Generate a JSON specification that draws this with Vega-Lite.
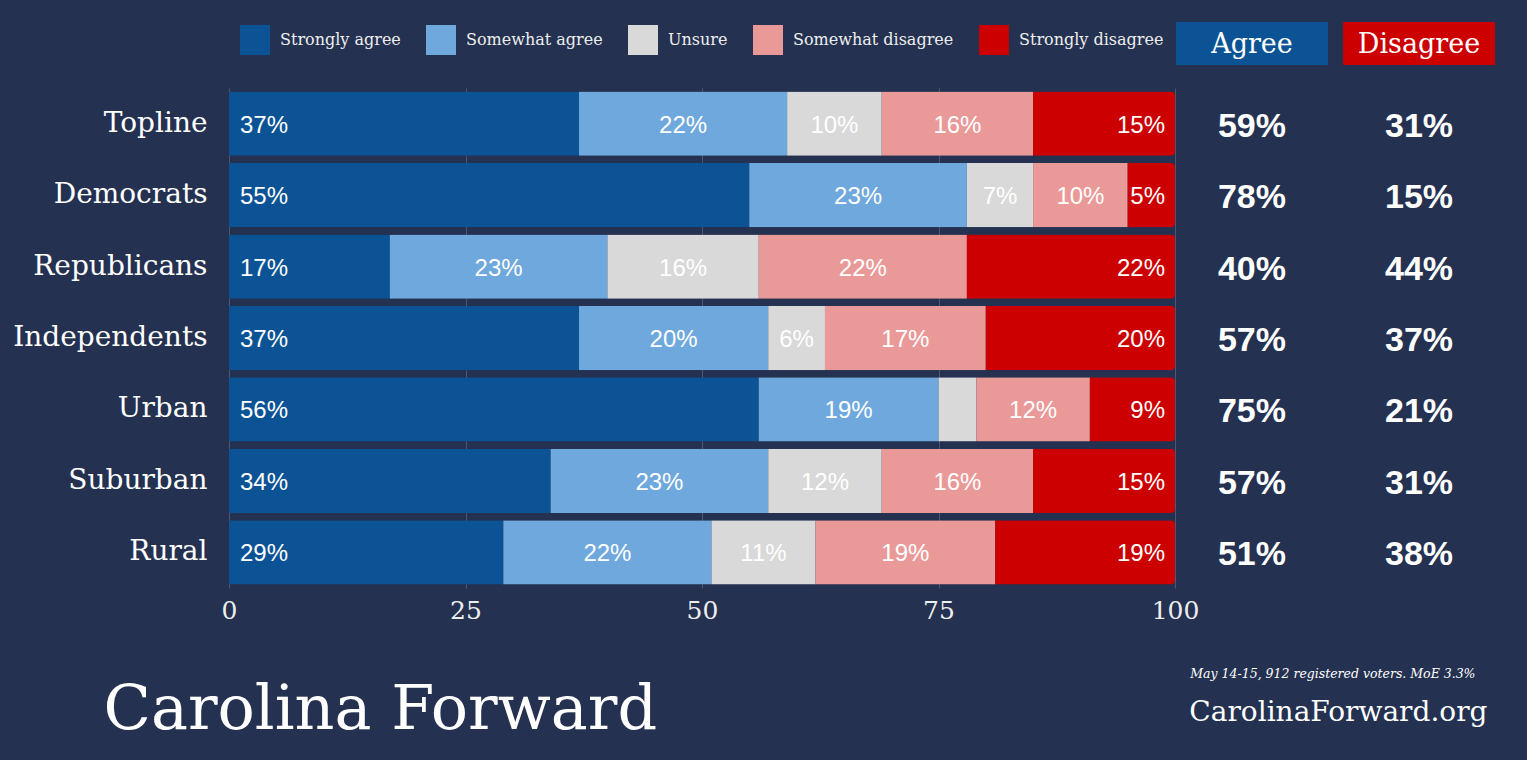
{
  "$schema": "https://vega.github.io/schema/vega-lite/v6.json",
  "width": 946,
  "height": 500,
  "autosize": {"type": "none"},
  "padding": {"left": 229, "top": 88, "right": 352, "bottom": 172},
  "background": "#243150",
  "config": {"view": {"stroke": null}},
  "datasets": {
    "shares": [
      {"group": "Topline", "category": "Strongly agree", "rank": 1, "value": 37},
      {"group": "Topline", "category": "Somewhat agree", "rank": 2, "value": 22},
      {"group": "Topline", "category": "Unsure", "rank": 3, "value": 10},
      {"group": "Topline", "category": "Somewhat disagree", "rank": 4, "value": 16},
      {"group": "Topline", "category": "Strongly disagree", "rank": 5, "value": 15},
      {"group": "Democrats", "category": "Strongly agree", "rank": 1, "value": 55},
      {"group": "Democrats", "category": "Somewhat agree", "rank": 2, "value": 23},
      {"group": "Democrats", "category": "Unsure", "rank": 3, "value": 7},
      {"group": "Democrats", "category": "Somewhat disagree", "rank": 4, "value": 10},
      {"group": "Democrats", "category": "Strongly disagree", "rank": 5, "value": 5},
      {"group": "Republicans", "category": "Strongly agree", "rank": 1, "value": 17},
      {"group": "Republicans", "category": "Somewhat agree", "rank": 2, "value": 23},
      {"group": "Republicans", "category": "Unsure", "rank": 3, "value": 16},
      {"group": "Republicans", "category": "Somewhat disagree", "rank": 4, "value": 22},
      {"group": "Republicans", "category": "Strongly disagree", "rank": 5, "value": 22},
      {"group": "Independents", "category": "Strongly agree", "rank": 1, "value": 37},
      {"group": "Independents", "category": "Somewhat agree", "rank": 2, "value": 20},
      {"group": "Independents", "category": "Unsure", "rank": 3, "value": 6},
      {"group": "Independents", "category": "Somewhat disagree", "rank": 4, "value": 17},
      {"group": "Independents", "category": "Strongly disagree", "rank": 5, "value": 20},
      {"group": "Urban", "category": "Strongly agree", "rank": 1, "value": 56},
      {"group": "Urban", "category": "Somewhat agree", "rank": 2, "value": 19},
      {"group": "Urban", "category": "Unsure", "rank": 3, "value": 4},
      {"group": "Urban", "category": "Somewhat disagree", "rank": 4, "value": 12},
      {"group": "Urban", "category": "Strongly disagree", "rank": 5, "value": 9},
      {"group": "Suburban", "category": "Strongly agree", "rank": 1, "value": 34},
      {"group": "Suburban", "category": "Somewhat agree", "rank": 2, "value": 23},
      {"group": "Suburban", "category": "Unsure", "rank": 3, "value": 12},
      {"group": "Suburban", "category": "Somewhat disagree", "rank": 4, "value": 16},
      {"group": "Suburban", "category": "Strongly disagree", "rank": 5, "value": 15},
      {"group": "Rural", "category": "Strongly agree", "rank": 1, "value": 29},
      {"group": "Rural", "category": "Somewhat agree", "rank": 2, "value": 22},
      {"group": "Rural", "category": "Unsure", "rank": 3, "value": 11},
      {"group": "Rural", "category": "Somewhat disagree", "rank": 4, "value": 19},
      {"group": "Rural", "category": "Strongly disagree", "rank": 5, "value": 19}
    ],
    "totals": [
      {"group": "Topline", "col": "Agree", "pct": 59},
      {"group": "Topline", "col": "Disagree", "pct": 31},
      {"group": "Democrats", "col": "Agree", "pct": 78},
      {"group": "Democrats", "col": "Disagree", "pct": 15},
      {"group": "Republicans", "col": "Agree", "pct": 40},
      {"group": "Republicans", "col": "Disagree", "pct": 44},
      {"group": "Independents", "col": "Agree", "pct": 57},
      {"group": "Independents", "col": "Disagree", "pct": 37},
      {"group": "Urban", "col": "Agree", "pct": 75},
      {"group": "Urban", "col": "Disagree", "pct": 21},
      {"group": "Suburban", "col": "Agree", "pct": 57},
      {"group": "Suburban", "col": "Disagree", "pct": 31},
      {"group": "Rural", "col": "Agree", "pct": 51},
      {"group": "Rural", "col": "Disagree", "pct": 38}
    ],
    "headers": [
      {"col": "Agree"},
      {"col": "Disagree"}
    ]
  },
  "layer": [
    {
      "layer": [
        {
          "data": {"name": "shares"},
          "layer": [
            {
              "mark": {"type": "bar", "cornerRadiusEnd": 4},
              "encoding": {
                "y": {"field": "group", "type": "nominal", "title": "May 14-15, 912 registered voters. MoE 3.3%",
                  "scale": {"domain": ["Topline", "Democrats", "Republicans", "Independents", "Urban", "Suburban", "Rural"], "paddingInner": 0.1, "paddingOuter": 0.05},
                  "axis": {"ticks": false, "domain": false, "labelFont": "DejaVu Serif", "labelFontSize": 28, "labelColor": "#ffffff", "labelPadding": 22, "labelLimit": 400,
                    "titleAngle": 0, "titleX": 1246, "titleY": 589, "titleAlign": "right", "titleAnchor": "end", "titleBaseline": "alphabetic",
                    "titleFont": "DejaVu Serif", "titleFontStyle": "italic", "titleFontSize": 12.5, "titleFontWeight": "normal", "titleColor": "#ffffff"}},
                "x": {"field": "value", "type": "quantitative", "stack": "zero", "title": "Carolina Forward",
                  "scale": {"domain": [0, 100]},
                  "axis": {"values": [0, 25, 50, 75, 100], "ticks": false, "domain": false, "grid": true, "gridColor": "#4c5772", "gridWidth": 1,
                    "labelFont": "DejaVu Serif", "labelFontSize": 25, "labelColor": "#eeeeee", "labelPadding": 10, "labelFlush": false,
                    "titleX": -126, "titleY": 140, "titleAlign": "left", "titleAnchor": "start", "titleBaseline": "alphabetic",
                    "titleFont": "DejaVu Serif", "titleFontSize": 62, "titleFontWeight": "normal", "titleColor": "#ffffff"}},
                "color": {"field": "category", "type": "nominal",
                  "scale": {"domain": ["Strongly agree", "Somewhat agree", "Unsure", "Somewhat disagree", "Strongly disagree"],
                    "range": ["#0B5394", "#6FA8DC", "#D9D9D9", "#EA9999", "#CC0000"]},
                  "legend": {"orient": "none", "legendX": 11, "legendY": -63, "direction": "horizontal", "title": null,
                    "symbolType": "square", "symbolSize": 900, "symbolStrokeWidth": 0, "symbolOpacity": 1,
                    "labelFont": "DejaVu Serif", "labelFontSize": 16, "labelColor": "#eeeeee", "labelOffset": 10, "labelLimit": 400,
                    "columnPadding": 25, "padding": 0}},
                "order": {"field": "rank", "type": "quantitative"}
              }
            },
            {
              "mark": {"type": "text", "align": "left", "dx": 11, "dy": 2, "baseline": "middle", "font": "Liberation Sans", "fontSize": 24, "color": "#ffffff", "text": {"expr": "datum.value + '%'"}},
              "encoding": {
                "y": {"field": "group", "type": "nominal", "title": "May 14-15, 912 registered voters. MoE 3.3%",
                  "scale": {"domain": ["Topline", "Democrats", "Republicans", "Independents", "Urban", "Suburban", "Rural"], "paddingInner": 0.1, "paddingOuter": 0.05}},
                "x": {"field": "value", "type": "quantitative", "stack": "zero", "bandPosition": 0, "title": "Carolina Forward"},
                "detail": {"field": "category", "type": "nominal"},
                "order": {"field": "rank", "type": "quantitative"},
                "opacity": {"condition": {"test": "datum.category === 'Strongly agree'", "value": 1}, "value": 0}
              }
            },
            {
              "mark": {"type": "text", "align": "center", "dy": 2, "baseline": "middle", "font": "Liberation Sans", "fontSize": 24, "color": "#ffffff", "text": {"expr": "datum.value + '%'"}},
              "encoding": {
                "y": {"field": "group", "type": "nominal", "title": "May 14-15, 912 registered voters. MoE 3.3%",
                  "scale": {"domain": ["Topline", "Democrats", "Republicans", "Independents", "Urban", "Suburban", "Rural"], "paddingInner": 0.1, "paddingOuter": 0.05}},
                "x": {"field": "value", "type": "quantitative", "stack": "zero", "bandPosition": 0.5, "title": "Carolina Forward"},
                "detail": {"field": "category", "type": "nominal"},
                "order": {"field": "rank", "type": "quantitative"},
                "opacity": {"condition": {"test": "(datum.category === 'Somewhat agree' || datum.category === 'Unsure' || datum.category === 'Somewhat disagree') && datum.value > 4", "value": 1}, "value": 0}
              }
            },
            {
              "mark": {"type": "text", "align": "right", "dx": -10, "dy": 2, "baseline": "middle", "font": "Liberation Sans", "fontSize": 24, "color": "#ffffff", "text": {"expr": "datum.value + '%'"}},
              "encoding": {
                "y": {"field": "group", "type": "nominal", "title": "May 14-15, 912 registered voters. MoE 3.3%",
                  "scale": {"domain": ["Topline", "Democrats", "Republicans", "Independents", "Urban", "Suburban", "Rural"], "paddingInner": 0.1, "paddingOuter": 0.05}},
                "x": {"field": "value", "type": "quantitative", "stack": "zero", "bandPosition": 1, "title": "Carolina Forward"},
                "detail": {"field": "category", "type": "nominal"},
                "order": {"field": "rank", "type": "quantitative"},
                "opacity": {"condition": {"test": "datum.category === 'Strongly disagree'", "value": 1}, "value": 0}
              }
            }
          ]
        },
        {
          "data": {"name": "totals"},
          "mark": {"type": "text", "align": "center", "baseline": "middle", "dy": 3, "font": "Liberation Sans", "fontWeight": "bold", "fontSize": 34, "color": "#ffffff", "text": {"expr": "datum.pct + '%'"}},
          "encoding": {
            "y": {"field": "group", "type": "nominal", "title": "May 14-15, 912 registered voters. MoE 3.3%",
              "scale": {"domain": ["Topline", "Democrats", "Republicans", "Independents", "Urban", "Suburban", "Rural"], "paddingInner": 0.1, "paddingOuter": 0.05}},
            "x": {"field": "col", "type": "nominal", "title": "CarolinaForward.org",
              "scale": {"type": "band", "domain": ["Agree", "Disagree"], "range": [947, 1266], "paddingInner": 0.09, "paddingOuter": 0},
              "axis": {"orient": "top", "labels": false, "ticks": false, "domain": false, "grid": false,
                "titleX": 1258, "titleY": 632, "titleAlign": "right", "titleAnchor": "end", "titleBaseline": "alphabetic",
                "titleFont": "DejaVu Serif", "titleFontSize": 28, "titleFontWeight": "normal", "titleColor": "#ffffff"}}
          }
        }
      ],
      "resolve": {"scale": {"x": "independent"}, "axis": {"x": "independent"}}
    },
    {
      "data": {"name": "headers"},
      "layer": [
        {
          "mark": {"type": "rect"},
          "encoding": {
            "x": {"field": "col", "type": "nominal",
              "scale": {"type": "band", "domain": ["Agree", "Disagree"], "range": [947, 1266], "paddingInner": 0.09, "paddingOuter": 0},
              "axis": null},
            "y": {"datum": "header", "type": "nominal",
              "scale": {"type": "band", "domain": ["header"], "range": [-66, -23], "paddingInner": 0, "paddingOuter": 0},
              "axis": null},
            "color": {"condition": {"test": "datum.col === 'Agree'", "value": "#0B5394"}, "value": "#CC0000"}
          }
        },
        {
          "mark": {"type": "text", "align": "center", "baseline": "middle", "dy": 1, "font": "DejaVu Serif", "fontSize": 27, "color": "#ffffff"},
          "encoding": {
            "x": {"field": "col", "type": "nominal",
              "scale": {"type": "band", "domain": ["Agree", "Disagree"], "range": [947, 1266], "paddingInner": 0.09, "paddingOuter": 0},
              "axis": null},
            "y": {"datum": "header", "type": "nominal",
              "scale": {"type": "band", "domain": ["header"], "range": [-66, -23], "paddingInner": 0, "paddingOuter": 0},
              "axis": null},
            "text": {"field": "col"}
          }
        }
      ]
    }
  ],
  "resolve": {"scale": {"x": "independent", "y": "independent"}, "axis": {"x": "independent", "y": "independent"}}
}
